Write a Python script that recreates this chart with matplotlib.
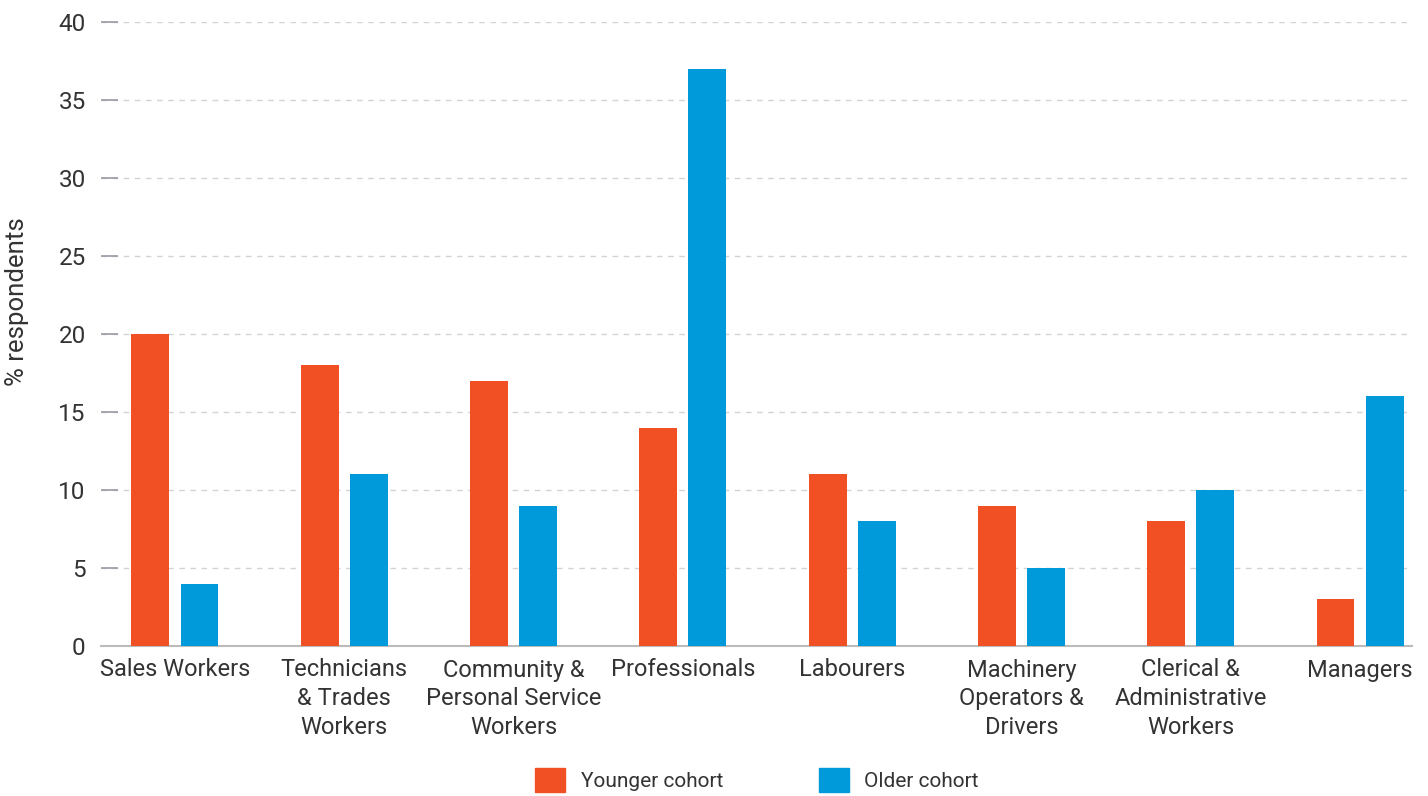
import numpy as np
import matplotlib
matplotlib.use('Agg')
import matplotlib.pyplot as plt
from matplotlib.patches import Patch

categories = ['Sales Workers', 'Technicians\n& Trades\nWorkers', 'Community &\nPersonal Service\nWorkers',
              'Professionals', 'Labourers', 'Machinery\nOperators &\nDrivers',
              'Clerical &\nAdministrative\nWorkers', 'Managers']
younger = [20, 18, 17, 14, 11, 9, 8, 3]
older = [4, 11, 9, 37, 8, 5, 10, 16]
series_names = ['Younger cohort', 'Older cohort']
yticks = [0, 5, 10, 15, 20, 25, 30, 35, 40]

orange = '#F05023'
blue = '#009ADB'
text_col = '#333333'

plt.rcParams['font.family'] = ['Roboto', 'DejaVu Sans']

fig = plt.figure(figsize=(14.28, 7.96), dpi=100)
ax = fig.add_axes([101 / 1428, 1 - 646 / 796, 1311 / 1428, 624 / 796])

x = np.arange(len(categories))
w = 0.224
off = 0.145
ax.bar(x - off, younger, w, color=orange, zorder=3)
ax.bar(x + off, older, w, color=blue, zorder=3)

ax.set_xlim(-0.437, 7.307)
ax.set_ylim(0, 40)
ax.set_yticks(yticks)
ax.set_xticks(x)
ax.set_xticklabels(categories, linespacing=1.33)

for s in ['top', 'right', 'left']:
    ax.spines[s].set_visible(False)
ax.spines['bottom'].set_color('#bbbbbb')
ax.spines['bottom'].set_linewidth(1.5)

ax.yaxis.grid(True, linestyle=(0, (4, 4)), color='#d3d3d3', linewidth=1, zorder=0)
ax.tick_params(axis='y', direction='in', length=12, width=1.2, color='#9a9aa6',
               labelsize=17.5, labelcolor=text_col, pad=11)
ax.tick_params(axis='x', length=0, labelsize=17, labelcolor=text_col, pad=9)

fig.text(17 / 1428, 1 - 302 / 796, '% respondents', rotation=90, va='center', ha='center',
         fontsize=18.5, color=text_col)

handles = [Patch(color=orange, label=series_names[0]), Patch(color=blue, label=series_names[1])]
fig.legend(handles=handles, loc='center', bbox_to_anchor=(757 / 1428, 1 - 780 / 796), ncol=2,
           frameon=False, fontsize=15, handlelength=1.44, handleheight=1.44,
           handletextpad=0.75, columnspacing=4.6, labelcolor=text_col,
           borderpad=0, borderaxespad=0)

fig.savefig('out.png', dpi=100)
